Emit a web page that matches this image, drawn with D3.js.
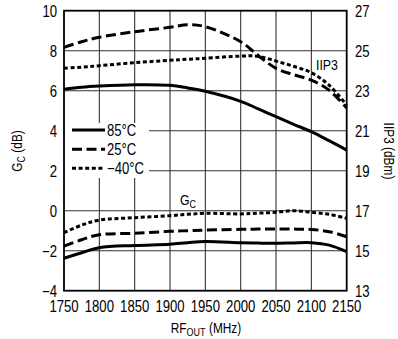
<!DOCTYPE html>
<html><head><meta charset="utf-8">
<script src="https://cdn.jsdelivr.net/npm/d3@7"></script>
<style>
body{margin:0;background:#fff;}
text{font-family:"Liberation Sans",Arial,sans-serif;fill:#000;}
</style></head><body>
<svg id="c" width="398" height="339"></svg>
<script>
const freq = [1750,1775,1800,1850,1900,1925,1950,2000,2025,2050,2075,2100,2125,2150];
// Conversion gain (dB), left axis
const gc85  = [-2.38,-2.1,-1.85,-1.74,-1.68,-1.6,-1.54,-1.6,-1.62,-1.63,-1.61,-1.6,-1.72,-2.05];
const gc25  = [-1.77,-1.45,-1.2,-1.13,-1.03,-1.0,-0.97,-0.93,-0.92,-0.92,-0.92,-0.94,-1.05,-1.3];
const gcm40 = [-1.1,-0.72,-0.47,-0.35,-0.25,-0.18,-0.13,-0.16,-0.12,-0.08,0.0,-0.08,-0.18,-0.38];
// IIP3 (dBm), right axis
const ip85  = [23.07,23.17,23.23,23.3,23.27,23.14,22.97,22.47,22.09,21.7,21.32,20.95,20.5,20.03];
const ip25  = [25.17,25.45,25.67,25.95,26.17,26.3,26.2,25.45,24.75,24.12,23.8,23.53,23.03,22.13];
const ipm40 = [24.12,24.18,24.25,24.4,24.52,24.57,24.62,24.73,24.72,24.48,24.22,23.9,23.28,22.28];
const xTicks = [1750,1800,1850,1900,1950,2000,2050,2100,2150];
const yTicksL = [-4,-2,0,2,4,6,8,10];
const yTicksR = [13,15,17,19,21,23,25,27];
const legendLabels = ["85°C","25°C","−40°C"];

const svg = d3.select("#c");
const L=64, R=346.7, T=10.7, B=290.7;
const SX = 0.82;
const x = d3.scaleLinear().domain([1750,2150]).range([L,R]);
const yl = d3.scaleLinear().domain([-4,10]).range([B,T]);
const yr = d3.scaleLinear().domain([13,27]).range([B,T]);

function txt(px,py,size,anchor,rot){
  return svg.append("text")
    .attr("transform",`translate(${px},${py})${rot?` rotate(${rot})`:""} scale(${SX},1)`)
    .attr("font-size",size).attr("text-anchor",anchor||"start");
}

// grid
const g = svg.append("g");
g.selectAll(".vg").data(xTicks.slice(1,-1)).join("line")
  .attr("x1",d=>x(d)).attr("x2",d=>x(d)).attr("y1",T).attr("y2",B)
  .attr("stroke","#333").attr("stroke-width",1.1);
g.selectAll(".hg").data(yTicksL.slice(1,-1)).join("line")
  .attr("x1",L).attr("x2",R).attr("y1",d=>yl(d)).attr("y2",d=>yl(d))
  .attr("stroke","#333").attr("stroke-width",1.1);

// legend background
svg.append("rect").attr("x",L+1).attr("y",123).attr("width",84).attr("height",55).attr("fill","#fff");

const styles = [
  {dash:null},
  {dash:"10,4.5"},
  {dash:"4,2.6"}
];
const line = d3.line().x((d,i)=>x(freq[i])).curve(d3.curveCatmullRom.alpha(0.5));
function draw(arr, scale, st){
  svg.append("path").datum(arr)
    .attr("d", line.y(d=>scale(d)))
    .attr("fill","none").attr("stroke","#000").attr("stroke-width",3)
    .attr("stroke-dasharray",st.dash);
}
draw(gc85,yl,styles[0]); draw(gc25,yl,styles[1]); draw(gcm40,yl,styles[2]);
draw(ip85,yr,styles[0]); draw(ip25,yr,styles[1]); draw(ipm40,yr,styles[2]);

// frame
svg.append("rect").attr("x",L).attr("y",T).attr("width",R-L).attr("height",B-T)
  .attr("fill","none").attr("stroke","#000").attr("stroke-width",1.8);

// ticks
const fs = 16;
xTicks.forEach(d=>txt(x(d),312,fs,"middle").text(d));
yTicksL.forEach(d=>txt(57,yl(d)+6,fs,"end").text(d<0?"−"+Math.abs(d):d));
yTicksR.forEach(d=>txt(355,yr(d)+6,fs,"start").text(d));

// axis titles
const xt = txt(206,333,14.5,"middle");
xt.append("tspan").text("RF");
xt.append("tspan").attr("font-size",11).attr("dy",3).text("OUT");
xt.append("tspan").attr("dy",-3).text(" (MHz)");

const ytl = txt(22,151,14.5,"middle",-90);
ytl.append("tspan").text("G");
ytl.append("tspan").attr("font-size",11).attr("dy",3).text("C");
ytl.append("tspan").attr("dy",-3).text(" (dB)");

txt(384,151,14.5,"middle",90).text("IIP3 (dBm)");

// curve labels
const gl = txt(180,205,15,"start");
gl.append("tspan").text("G");
gl.append("tspan").attr("font-size",11).attr("dy",3).text("C");
txt(316,70,15,"start").text("IIP3");

// legend
const ly = [130,149.3,168.3];
legendLabels.forEach((lab,i)=>{
  svg.append("line").attr("x1",72).attr("x2",105).attr("y1",ly[i]).attr("y2",ly[i])
    .attr("stroke","#000").attr("stroke-width",3).attr("stroke-dasharray",styles[i].dash);
  txt(107,ly[i]+6,16,"start").text(lab);
});
</script></body></html>
